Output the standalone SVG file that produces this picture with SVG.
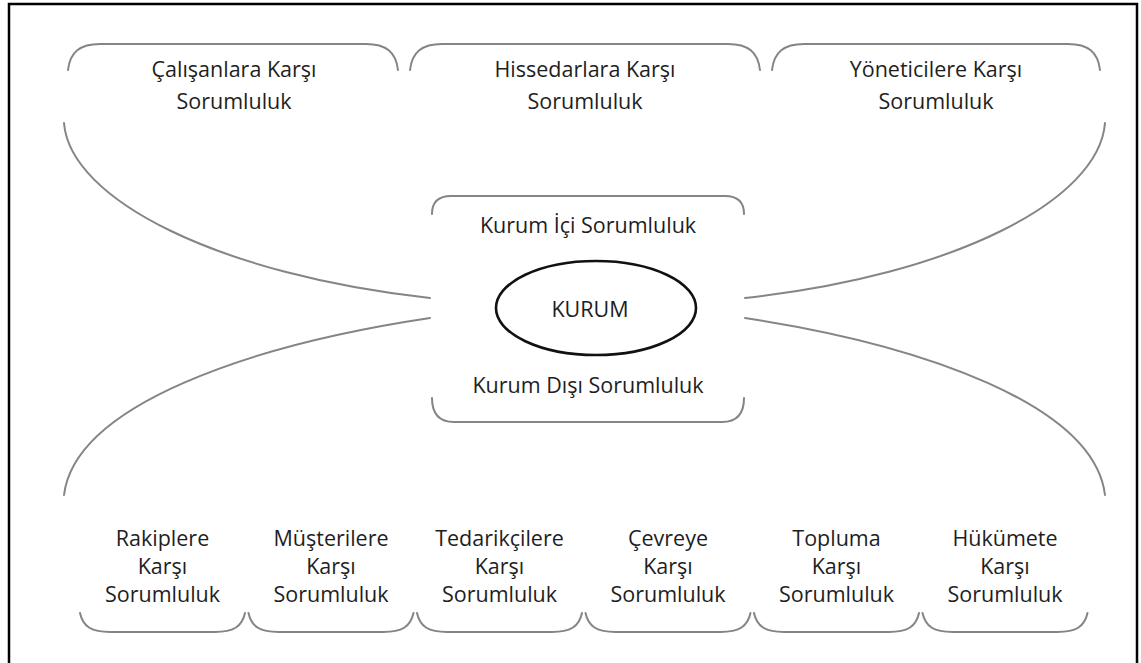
<svg xmlns="http://www.w3.org/2000/svg" width="1141" height="663" viewBox="0 0 1141 663">
<style>
.ln{fill:none;stroke:#858585;stroke-width:2;stroke-linecap:round}
.t{font-family:"Open Sans","Noto Sans","Liberation Sans",sans-serif;font-size:21.5px;fill:#1e1e1e;text-anchor:middle}
</style>
<rect x="0" y="0" width="1141" height="663" fill="#fff"/>
<rect x="9" y="4" width="1128" height="690" fill="none" stroke="#000" stroke-width="2.5"/>
<g id="connectors">
<path class="ln" d="M64,123 C70,200 220,275 430,298"/>
<path class="ln" d="M430,318 C250,345 75,405 64,495"/>
<path class="ln" d="M745,298 C955,275 1099,200 1105,123"/>
<path class="ln" d="M745,318 C923,345 1094,405 1105,495"/>
</g>
<g id="calisanlar">
<path class="ln" d="M68,70 C70,52 80,44 100,44 L366,44 C386,44 396,52 398,70"/>
<text class="t" x="234" y="77">Çalışanlara Karşı</text>
<text class="t" x="234" y="109">Sorumluluk</text>
</g>
<g id="hissedarlar">
<path class="ln" d="M410,70 C412,52 422,44 442,44 L728,44 C748,44 758,52 760,70"/>
<text class="t" x="585" y="77">Hissedarlara Karşı</text>
<text class="t" x="585" y="109">Sorumluluk</text>
</g>
<g id="yoneticiler">
<path class="ln" d="M772,70 C774,52 784,44 804,44 L1068,44 C1088,44 1098,52 1100,70"/>
<text class="t" x="936" y="77">Yöneticilere Karşı</text>
<text class="t" x="936" y="109">Sorumluluk</text>
</g>
<g id="kurum">
<path class="ln" d="M432,214 Q432,196 451,196 L725,196 Q744,196 744,214"/>
<path class="ln" d="M432,398 Q432,422 454,422 L722,422 Q744,422 744,398"/>
<text class="t" x="588" y="233">Kurum İçi Sorumluluk</text>
<ellipse cx="596" cy="308" rx="100" ry="47" fill="none" stroke="#111" stroke-width="2.6"/>
<text class="t" x="590" y="317">KURUM</text>
<text class="t" x="588" y="393">Kurum Dışı Sorumluluk</text>
</g>
<g id="rakipler">
<path class="ln" d="M80,613 C83,627 92,632 110,632 L215,632 C233,632 242,627 245,613"/>
<text class="t" x="162.5" y="546">Rakiplere</text>
<text class="t" x="162.5" y="574">Karşı</text>
<text class="t" x="162.5" y="602">Sorumluluk</text>
</g>
<g id="musteriler">
<path class="ln" d="M248.5,613 C251.5,627 260.5,632 278.5,632 L383.5,632 C401.5,632 410.5,627 413.5,613"/>
<text class="t" x="331" y="546">Müşterilere</text>
<text class="t" x="331" y="574">Karşı</text>
<text class="t" x="331" y="602">Sorumluluk</text>
</g>
<g id="tedarikciler">
<path class="ln" d="M417,613 C420,627 429,632 447,632 L552,632 C570,632 579,627 582,613"/>
<text class="t" x="499.5" y="546">Tedarikçilere</text>
<text class="t" x="499.5" y="574">Karşı</text>
<text class="t" x="499.5" y="602">Sorumluluk</text>
</g>
<g id="cevre">
<path class="ln" d="M585.5,613 C588.5,627 597.5,632 615.5,632 L720.5,632 C738.5,632 747.5,627 750.5,613"/>
<text class="t" x="668" y="546">Çevreye</text>
<text class="t" x="668" y="574">Karşı</text>
<text class="t" x="668" y="602">Sorumluluk</text>
</g>
<g id="toplum">
<path class="ln" d="M754,613 C757,627 766,632 784,632 L889,632 C907,632 916,627 919,613"/>
<text class="t" x="836.5" y="546">Topluma</text>
<text class="t" x="836.5" y="574">Karşı</text>
<text class="t" x="836.5" y="602">Sorumluluk</text>
</g>
<g id="hukumet">
<path class="ln" d="M922.5,613 C925.5,627 934.5,632 952.5,632 L1057.5,632 C1075.5,632 1084.5,627 1087.5,613"/>
<text class="t" x="1005" y="546">Hükümete</text>
<text class="t" x="1005" y="574">Karşı</text>
<text class="t" x="1005" y="602">Sorumluluk</text>
</g>
</svg>
